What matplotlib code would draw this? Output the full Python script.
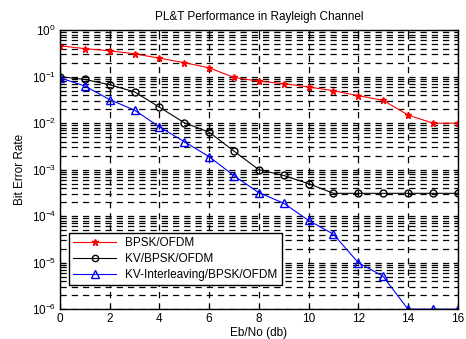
import matplotlib
matplotlib.use('Agg')
import matplotlib.pyplot as plt
from matplotlib.ticker import FixedLocator, NullFormatter

plt.rcParams['font.family'] = ['Liberation Sans', 'DejaVu Sans']

# Eb/No points
ebno = list(range(17))

# BER values
ber_bpsk = [0.46, 0.40, 0.36, 0.31, 0.25, 0.20, 0.155, 0.096, 0.080, 0.071,
            0.060, 0.050, 0.039, 0.031, 0.015, 0.010, 0.010]
ber_kv = [0.10, 0.087, 0.067, 0.047, 0.022, 0.0102, 0.0064, 0.0025, 0.0010,
          0.00075, 0.00050, 0.00031, 0.00031, 0.00031, 0.00031, 0.00031, 0.00031]
ber_kv_il = [0.094, 0.063, 0.032, 0.019, 0.0083, 0.0040, 0.0019, 0.00074,
             0.00032, 0.00019, 0.000081, 0.000041, 0.00001, 0.0000051,
             1e-6, 1e-6, 1e-6]

labels = ['BPSK/OFDM', 'KV/BPSK/OFDM', 'KV-Interleaving/BPSK/OFDM']
decades = [1e-6, 1e-5, 1e-4, 1e-3, 1e-2, 1e-1, 1]

fs = 8.5
fig = plt.figure(figsize=(4.66, 3.39), dpi=100)
ax = fig.add_axes([0.129, 0.088, 0.853, 0.823])

ax.semilogy(ebno, ber_bpsk, 'r-*', lw=0.8, ms=5, label=labels[0])
ax.semilogy(ebno, ber_kv, 'k-o', lw=0.8, ms=5, mfc='none', label=labels[1])
ax.semilogy(ebno, ber_kv_il, 'b-^', lw=0.8, ms=6, mfc='none', label=labels[2])

ax.set_xlim(0, 16)
ax.set_ylim(1e-6, 1)
ax.set_xticks(range(0, 17, 2))
ax.set_yticks(decades)
# minor gridlines at 2..9 x each decade (inside the limits only)
minors = [m * d for d in decades[:-1] for m in range(2, 10)]
ax.yaxis.set_minor_locator(FixedLocator(minors))
ax.yaxis.set_minor_formatter(NullFormatter())

ax.grid(True, which='major', ls=(0, (5, 4)), color='k', lw=0.9)
ax.grid(True, which='minor', axis='y', ls=(0, (5, 4)), color='k', lw=0.9)
ax.tick_params(which='both', direction='in', top=True, right=True, labelsize=fs, pad=3)
for s in ax.spines.values():
    s.set_linewidth(1.0)

ax.set_title('PL&T Performance in Rayleigh Channel', fontsize=fs, pad=7)
ax.set_xlabel('Eb/No (db)', fontsize=fs, labelpad=1)
ax.set_ylabel('Bit Error Rate', fontsize=fs, labelpad=4)

leg = ax.legend(loc='lower left', bbox_to_anchor=(0.023, 0.086), fontsize=fs,
                fancybox=False, framealpha=1, edgecolor='k', borderaxespad=0,
                handlelength=3.6, labelspacing=0.35, borderpad=0.35,
                markerscale=0.9)
leg.get_frame().set_linewidth(1.0)

fig.savefig('out.png', dpi=100)
